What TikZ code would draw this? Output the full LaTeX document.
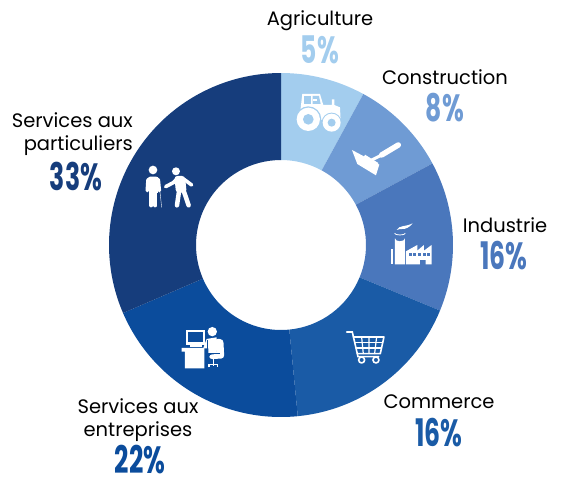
\documentclass[tikz,border=0pt]{standalone}
\usepackage{fontspec}
\setmainfont{Poppins}
\newfontfamily\pctfont{Poppins}[FakeStretch=0.66,UprightFont=* Bold]
\definecolor{cagri}{HTML}{A3CDEE}
\definecolor{cconstr}{HTML}{6F9BD4}
\definecolor{cindus}{HTML}{4A77BC}
\definecolor{ccomm}{HTML}{1A5BA6}
\definecolor{centr}{HTML}{0B4C9C}
\definecolor{cpart}{HTML}{163D7C}
\newcommand{\sector}[3]{\fill[#3] (#1:172) arc[start angle=#1,end angle=#2,radius=172] -- (#2:85) arc[start angle=#2,end angle=#1,radius=85] -- cycle;}
\tikzset{
 lab/.style={font=\fontsize{19.5}{23}\selectfont,align=center,text=black,inner sep=0pt},
 pct/.style={font=\pctfont\fontsize{38}{38}\selectfont,inner sep=0pt},
 icol/.style={draw=white,line cap=round,line join=round}
}
\begin{document}
\begin{tikzpicture}[x=1pt,y=-1pt]
\useasboundingbox (0,0) rectangle (563,477);
\begin{scope}[shift={(281,245)},y=1pt]
\sector{90}{61.4}{cagri}
\sector{61.4}{28.3}{cconstr}
\sector{28.3}{-22.4}{cindus}
\sector{-22.4}{-84.4}{ccomm}
\sector{-84.4}{-156.7}{centr}
\sector{-156.7}{-270}{cpart}
\end{scope}
% labels
\node[lab] (agl) at (320,21) {Agriculture};
\node[pct,text=cagri] (agp) at (320,50) {5\%};
\node[lab] (col) at (445,77) {Construction};
\node[pct,text=cconstr] (cop) at (445,108) {8\%};
\node[lab] (inl) at (505,225) {Industrie};
\node[pct,text=cindus] (inp) at (504,256) {16\%};
\node[lab] (cml) at (439,402) {Commerce};
\node[pct,text=ccomm] (cmp) at (439,433) {16\%};
\node[lab] (enl) at (138,420) {Services aux\\entreprises};
\node[pct,text=centr] (enp) at (140,460) {22\%};
\node[lab,align=right,anchor=east] (pal) at (133,134) {Services aux\\particuliers};
\node[pct,text=cpart] (pap) at (76,177) {33\%};
% tractor
\begin{scope}[x=0.3333pt,y=-0.3333pt,shift={(810,180)}]
\fill[white] (92,145) -- (97,102) -- (150,102) -- (160,135) -- (186,135) -- (186,118) -- (193,118) -- (193,135) -- (210,142) -- (212,180) -- (140,180) -- (90,160) -- cycle;
\fill[cagri] (103,108) rectangle (122,132);
\fill[cagri] (128,108) -- (147,108) -- (152,132) -- (128,132) -- cycle;
\fill[white] (128,118) rectangle (140,124);
\fill[cagri] (115,178) circle (39);
\fill[white] (115,178) circle (35);
\fill[cagri] (115,178) circle (16);
\fill[cagri] (185,188) circle (30);
\fill[white] (185,188) circle (27);
\fill[cagri] (185,188) circle (12);
\end{scope}
% hoe
\begin{scope}[x=0.3333pt,y=-0.3333pt,shift={(810,180)}]
\fill[white] (246,270) -- (278,287) -- (328,314) -- (318,346) -- (262,312) -- cycle;
\draw[white,line width=5.5pt,line cap=round] (335,285) -- (385,255);
\draw[white,line width=3pt] (283,288) -- (323,313);
\draw[white,line width=3pt] (305,300) -- (340,283);
\end{scope}
% factory
\begin{scope}[x=0.3333pt,y=-0.3333pt,shift={(1020,630)}]
\fill[white] (165,163) -- (165,85) arc[start angle=180,end angle=0,x radius=15,y radius=9] -- (195,163) -- cycle;
\draw[white,line width=0.8pt] (164,70) arc[start angle=180,end angle=0,x radius=16,y radius=5];
\fill[white] (152,118) rectangle (160,163);
\fill[white] (170,60) .. controls (180,44) and (195,52) .. (218,40) .. controls (210,52) and (195,58) .. (188,57) .. controls (182,56) and (176,58) .. (170,60) -- cycle;
\fill[white] (198,163) -- (198,124) -- (232,105) -- (232,122) -- (252,105) -- (252,122) -- (275,105) -- (275,163) -- (257,163) -- (257,150) -- (240,150) -- (240,163) -- cycle;
\foreach \xx in {206,220,234,248,262} \fill[cindus] (\xx,130) rectangle +(9,9);
\end{scope}
% cart
\begin{scope}[x=0.3333pt,y=-0.3333pt,shift={(1020,630)}]
\draw[icol,line width=1.6pt,line join=miter] (20,366) -- (37,366) -- (54,440) -- (116,440);
\draw[icol,line width=1.6pt] (40,381) -- (132,381) -- (121,431) -- (52,431);
\draw[icol,line width=1.2pt] (44,397) -- (128,397) (48,414) -- (125,414);
\draw[icol,line width=1.2pt] (65,381) -- (70,431) (87,381) -- (87,431) (110,381) -- (104,431);
\draw[icol,line width=1.6pt] (65,450) circle (9) (108,450) circle (9);
\end{scope}
% people
\begin{scope}[x=0.3333pt,y=-0.3333pt,shift={(390,450)}]
\fill[white] (69,60) circle (13);
\fill[white] (138,64) circle (12);
\draw[icol,line width=3.6pt] (52,122) -- (54,90) -- (62,85) -- (77,85) -- (85,90) -- (88,122);
\fill[white] (57,80) rectangle (83,128);
\draw[icol,line width=4.2pt] (64,125) -- (64,166) (76,125) -- (76,166);
\draw[white,line width=0.4pt] (90,125) -- (95,172);
\draw[icol,line width=3.6pt] (107,110) -- (130,98) -- (140,88) (162,88) -- (185,105);
\fill[white,rounded corners=3pt] (133,78) -- (165,78) -- (170,128) -- (138,128) -- cycle;
\draw[icol,line width=4.5pt] (147,125) -- (141,166) (162,125) -- (176,166);
\end{scope}
% workstation
\begin{scope}[x=0.3333pt,y=-0.3333pt,shift={(510,960)}]
\fill[white] (127,35) circle (14);
\fill[white] (49,29) rectangle (104,74);
\fill[centr] (55,36) rectangle (98,67);
\fill[white] (60,74) rectangle (95,82);
\fill[white] (35,84) -- (103,84) -- (103,145) -- (45,145) -- (45,95) -- (35,95) -- cycle;
\fill[white] (105,70) -- (110,57) -- (140,52) -- (140,100) -- (115,100) -- (115,85) -- (100,85) -- cycle;
\fill[white,rounded corners=3pt] (135,56) -- (160,58) -- (163,115) -- (118,118) -- (118,103) -- (140,103) -- cycle;
\draw[centr,line width=0.8pt] (112,60) -- (112,100) -- (150,100);
\draw[white,line width=1.2pt] (130,118) -- (130,137) (117,142) -- (117,134) -- (143,134) -- (143,142);
\end{scope}
\end{tikzpicture}
\end{document}
